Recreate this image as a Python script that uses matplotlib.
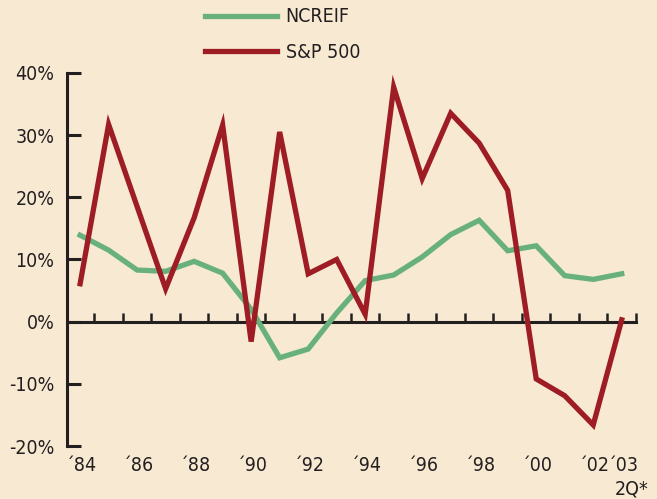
import numpy as np
import matplotlib
matplotlib.use('Agg')
import matplotlib.pyplot as plt
from matplotlib import transforms

# data
years = list(range(1984, 2004))
ncreif = [13.9, 11.5, 8.3, 8.1, 9.7, 7.8, 2.0, -5.8, -4.4, 1.4,
          6.6, 7.5, 10.4, 14.0, 16.3, 11.4, 12.2, 7.4, 6.8, 7.7]
sp500 = [6.1, 31.7, 18.5, 5.3, 16.7, 31.6, -3.2, 30.5, 7.7, 10.0,
         1.2, 37.7, 23.0, 33.5, 28.7, 21.1, -9.2, -11.9, -16.6, 0.3]
year_labels = ['´84', '´86', '´88', '´90', '´92', '´94', '´96', '´98', '´00', '´02', '´03']
label_years = [1984, 1986, 1988, 1990, 1992, 1994, 1996, 1998, 2000, 2002, 2003]
yticks = [-20, -10, 0, 10, 20, 30, 40]

bg = '#f8e9d2'
green = '#68b17c'
red = '#9e1c24'
dark = '#231f20'

# condensed font, close to the original
plt.rcParams['font.family'] = ['DejaVu Sans']
plt.rcParams['font.stretch'] = 'condensed'
plt.rcParams['axes.unicode_minus'] = False

fig = plt.figure(figsize=(6.57, 4.99), dpi=100, facecolor=bg)
ax = fig.add_axes([0.102, 0.106, 0.866, 0.748])
ax.set_facecolor(bg)

ax.plot(years, ncreif, color=green, lw=3.8, solid_joinstyle='miter', label='NCREIF', zorder=3)
ax.plot(years, sp500, color=red, lw=3.8, solid_joinstyle='miter', label='S&P 500', zorder=4)

ax.set_xlim(1983.54, 2003.5)
ax.set_ylim(-20, 40)

for s in ['top', 'right']:
    ax.spines[s].set_visible(False)
ax.spines['bottom'].set_position(('data', 0))
ax.spines['bottom'].set_color(dark)
ax.spines['left'].set_color(dark)
ax.spines['bottom'].set_linewidth(2.2)
ax.spines['left'].set_linewidth(2.2)

ax.set_yticks(yticks)
ax.set_yticklabels(['{}%'.format(v) for v in yticks])
ax.tick_params(axis='y', direction='in', length=10, width=2.2, color=dark,
               labelsize=14, labelcolor=dark, pad=9)

# ticks between years on the zero line
ax.set_xticks([y + 0.5 for y in years])
ax.tick_params(axis='x', direction='in', length=6.5, width=1.8, color=dark,
               labelbottom=False)

# year labels under the plot
trans = transforms.blended_transform_factory(ax.transData, ax.transAxes)
for yr, lab in zip(label_years, year_labels):
    ax.text(yr + 0.05, -0.027, lab, transform=trans, ha='center', va='top',
            fontsize=14, color=dark)
ax.text(2003.35, -0.09, '2Q*', transform=trans, ha='center', va='top',
        fontsize=14, color=dark)

fig.legend(loc='upper left', bbox_to_anchor=(0.312, 0.985), frameon=False,
           fontsize=14, handlelength=3.7, handletextpad=0.45, labelspacing=0.85,
           borderpad=0, borderaxespad=0, labelcolor=dark)

fig.savefig('out.png', dpi=100, facecolor=bg)
